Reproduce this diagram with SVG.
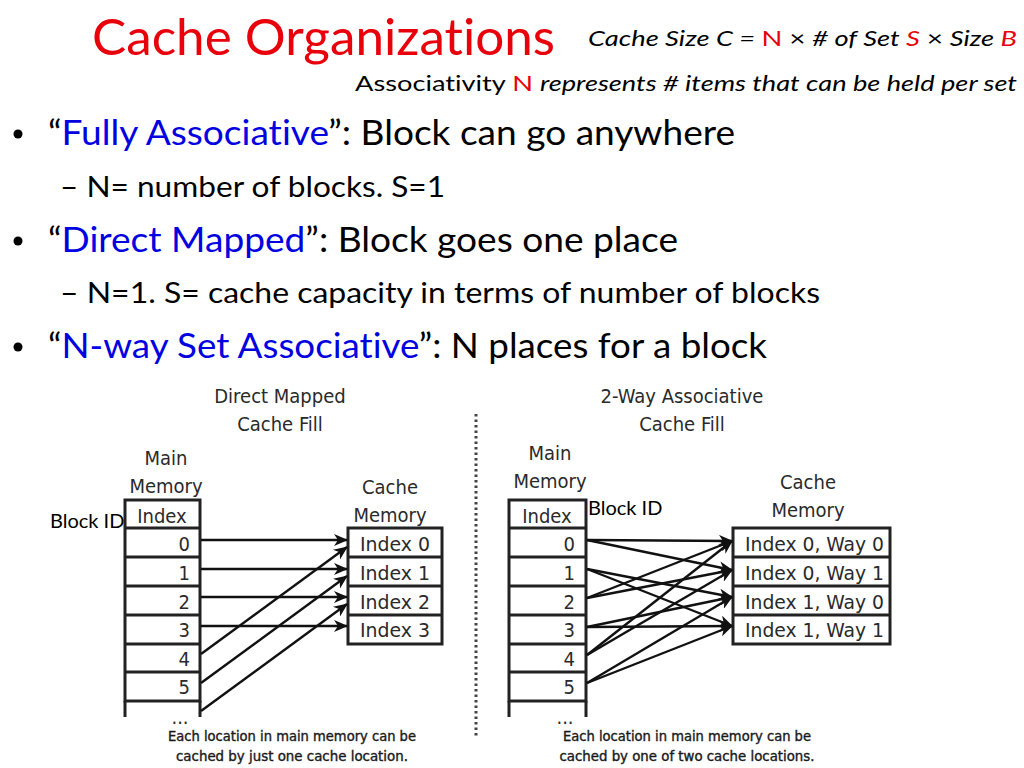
<svg xmlns="http://www.w3.org/2000/svg" width="1024" height="768" viewBox="0 0 1024 768">
<defs>
<marker id="ah" markerWidth="14" markerHeight="12" refX="13" refY="6" orient="auto" markerUnits="userSpaceOnUse">
<path d="M0,0 L14,6 L0,12 L4,6 z" fill="#111"/>
</marker>
<style>
.slide{font-family:Lato,"Open Sans","Liberation Sans",sans-serif;fill:#000;font-variant-ligatures:none}
.red{fill:#e8000b}
.blue{fill:#0000e0}
.it{font-style:italic}
.dg{font-family:"DejaVu Sans Condensed","DejaVu Sans",sans-serif;fill:#2a2a2a;font-size:20px}
.cap{font-family:"DejaVu Sans Condensed","DejaVu Sans",sans-serif;fill:#1a1a1a;font-size:13.5px;text-anchor:middle;stroke:#1a1a1a;stroke-width:0.35}
.box{fill:#fff;stroke:#222;stroke-width:3}
.ln{stroke:#222;stroke-width:3;fill:none}
.ar{stroke:#111;stroke-width:2.4;fill:none;marker-end:url(#ah)}
</style>
</defs>
<rect width="1024" height="768" fill="#fff"/>

<g id="title">
<text class="slide red" x="92" y="55" font-size="51" textLength="463" lengthAdjust="spacingAndGlyphs">Cache Organizations</text>
</g>
<g id="formula">
<text class="slide it" x="588" y="46" font-size="21" textLength="429" lengthAdjust="spacingAndGlyphs">Cache Size C = <tspan class="red" font-style="normal">N</tspan><tspan font-style="normal"> × </tspan> # of Set <tspan class="red">S</tspan><tspan font-style="normal">  ×  </tspan>Size <tspan class="red">B</tspan></text>
<text class="slide" x="355" y="91" font-size="21" textLength="662" lengthAdjust="spacingAndGlyphs">Associativity <tspan class="red">N</tspan> <tspan class="it">represents # items that can be held per set</tspan></text>
</g>

<g id="bullets">
<circle cx="18" cy="134" r="4.5" fill="#000"/>
<text class="slide" x="48" y="145" font-size="34" textLength="687" lengthAdjust="spacingAndGlyphs">“<tspan class="blue">Fully Associative</tspan>”: Block can go anywhere</text>
<text class="slide" x="60" y="197" font-size="29" textLength="385" lengthAdjust="spacingAndGlyphs">–  N= number of blocks. S=1</text>
<circle cx="18" cy="241" r="4.5" fill="#000"/>
<text class="slide" x="48" y="252" font-size="34" textLength="630" lengthAdjust="spacingAndGlyphs">“<tspan class="blue">Direct Mapped</tspan>”: Block goes one place</text>
<text class="slide" x="60" y="303" font-size="29" textLength="760" lengthAdjust="spacingAndGlyphs">–  N=1. S= cache capacity in terms of  number of blocks</text>
<circle cx="18" cy="347" r="4.5" fill="#000"/>
<text class="slide" x="48" y="358" font-size="34" textLength="719" lengthAdjust="spacingAndGlyphs">“<tspan class="blue">N-way Set Associative</tspan>”: N places for a block</text>
</g>

<g id="separator">
<line x1="476" y1="414" x2="476" y2="737" stroke="#444" stroke-width="3" stroke-dasharray="2.5 3"/>
</g>

<g id="dm-labels">
<text class="dg" x="280" y="403" text-anchor="middle">Direct Mapped</text>
<text class="dg" x="280" y="431" text-anchor="middle">Cache Fill</text>
<text class="dg" x="166" y="465" text-anchor="middle">Main</text>
<text class="dg" x="166" y="493" text-anchor="middle">Memory</text>
<text class="dg" x="390" y="494" text-anchor="middle">Cache</text>
<text class="dg" x="390" y="522" text-anchor="middle">Memory</text>
<text class="dg" x="180" y="724" text-anchor="middle" font-size="14">...</text>
<text class="cap" x="292" y="741" textLength="248" lengthAdjust="spacingAndGlyphs">Each location in main memory can be</text>
<text class="cap" x="292" y="761" textLength="232" lengthAdjust="spacingAndGlyphs">cached by just one cache location.</text>
<text class="slide" x="50" y="528" font-size="20">Block ID</text>
</g>

<g id="dm-main-memory">
<rect class="box" x="125" y="500" width="75" height="201"/>
<path class="ln" d="M125,701 V717 M200,701 V717 M125,528 H200 M125,557 H200 M125,586 H200 M125,615 H200 M125,644 H200 M125,672 H200"/>
<text class="dg" x="162" y="523" text-anchor="middle">Index</text>
<g class="dg" text-anchor="end">
<text x="190" y="551">0</text>
<text x="190" y="580">1</text>
<text x="190" y="609">2</text>
<text x="190" y="637">3</text>
<text x="190" y="666">4</text>
<text x="190" y="694">5</text>
</g>
</g>

<g id="dm-cache">
<rect class="box" x="348" y="528" width="94" height="116"/>
<path class="ln" d="M348,557 H442 M348,586 H442 M348,615 H442"/>
<text class="dg" x="360" y="551" textLength="70" lengthAdjust="spacingAndGlyphs">Index 0</text>
<text class="dg" x="360" y="580" textLength="70" lengthAdjust="spacingAndGlyphs">Index 1</text>
<text class="dg" x="360" y="609" textLength="70" lengthAdjust="spacingAndGlyphs">Index 2</text>
<text class="dg" x="360" y="637" textLength="70" lengthAdjust="spacingAndGlyphs">Index 3</text>
</g>

<g id="dm-connectors">
<line class="ar" x1="201" y1="540" x2="347" y2="540"/>
<line class="ar" x1="201" y1="569" x2="347" y2="569"/>
<line class="ar" x1="201" y1="597" x2="347" y2="597"/>
<line class="ar" x1="201" y1="626" x2="347" y2="626"/>
<line class="ar" x1="201" y1="654" x2="347" y2="547"/>
<line class="ar" x1="201" y1="683" x2="347" y2="576"/>
<line class="ar" x1="201" y1="711" x2="347" y2="604"/>
</g>

<g id="sa-labels">
<text class="dg" x="682" y="403" text-anchor="middle">2-Way Associative</text>
<text class="dg" x="682" y="431" text-anchor="middle">Cache Fill</text>
<text class="dg" x="550" y="460" text-anchor="middle">Main</text>
<text class="dg" x="550" y="488" text-anchor="middle">Memory</text>
<text class="dg" x="808" y="489" text-anchor="middle">Cache</text>
<text class="dg" x="808" y="517" text-anchor="middle">Memory</text>
<text class="dg" x="565" y="724" text-anchor="middle" font-size="14">...</text>
<text class="cap" x="687" y="741" textLength="248" lengthAdjust="spacingAndGlyphs">Each location in main memory can be</text>
<text class="cap" x="687" y="761" textLength="255" lengthAdjust="spacingAndGlyphs">cached by one of two cache locations.</text>
<text class="slide" x="588" y="515" font-size="20">Block ID</text>
</g>

<g id="sa-main-memory">
<rect class="box" x="509" y="500" width="77" height="201"/>
<path class="ln" d="M509,701 V717 M586,701 V717 M509,528 H586 M509,557 H586 M509,586 H586 M509,615 H586 M509,644 H586 M509,672 H586"/>
<text class="dg" x="547" y="523" text-anchor="middle">Index</text>
<g class="dg" text-anchor="end">
<text x="575" y="551">0</text>
<text x="575" y="580">1</text>
<text x="575" y="609">2</text>
<text x="575" y="637">3</text>
<text x="575" y="666">4</text>
<text x="575" y="694">5</text>
</g>
</g>

<g id="sa-cache">
<rect class="box" x="733" y="528" width="157" height="116"/>
<path class="ln" d="M733,557 H890 M733,586 H890 M733,615 H890"/>
<text class="dg" x="745" y="551" textLength="139" lengthAdjust="spacingAndGlyphs">Index 0, Way 0</text>
<text class="dg" x="745" y="580" textLength="139" lengthAdjust="spacingAndGlyphs">Index 0, Way 1</text>
<text class="dg" x="745" y="609" textLength="139" lengthAdjust="spacingAndGlyphs">Index 1, Way 0</text>
<text class="dg" x="745" y="637" textLength="139" lengthAdjust="spacingAndGlyphs">Index 1, Way 1</text>
</g>

<g id="sa-connectors">
<line class="ar" x1="587" y1="540" x2="732" y2="541"/>
<line class="ar" x1="587" y1="540" x2="732" y2="570"/>
<line class="ar" x1="587" y1="569" x2="732" y2="597"/>
<line class="ar" x1="587" y1="569" x2="732" y2="626"/>
<line class="ar" x1="587" y1="598" x2="732" y2="541"/>
<line class="ar" x1="587" y1="598" x2="732" y2="570"/>
<line class="ar" x1="587" y1="627" x2="732" y2="597"/>
<line class="ar" x1="587" y1="627" x2="732" y2="626"/>
<line class="ar" x1="587" y1="655" x2="732" y2="541"/>
<line class="ar" x1="587" y1="655" x2="732" y2="570"/>
<line class="ar" x1="587" y1="683" x2="732" y2="597"/>
<line class="ar" x1="587" y1="683" x2="732" y2="626"/>
</g>
</svg>
